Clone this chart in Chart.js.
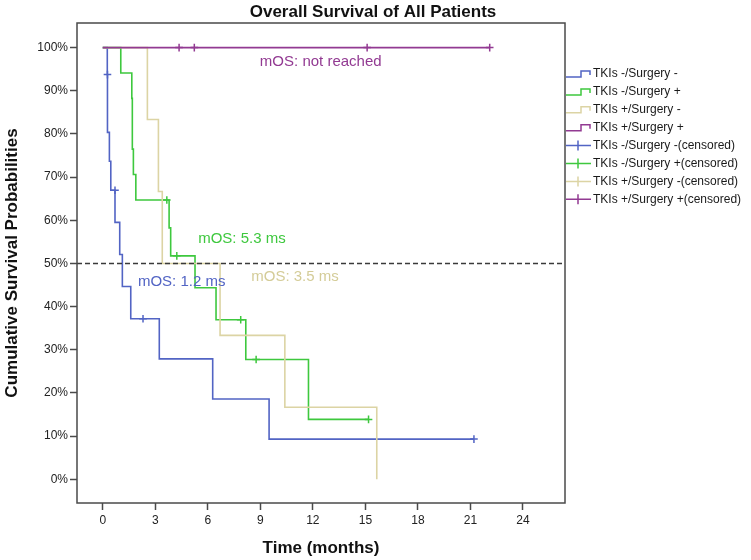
<!DOCTYPE html>
<html>
<head>
<meta charset="utf-8">
<script src="https://cdn.jsdelivr.net/npm/chart.js@4"></script>
<style>
  html, body { margin: 0; padding: 0; background: #fff; }
</style>
</head>
<body>
<canvas id="km" width="751" height="560"></canvas>
<script>
// group names
const groupNames = ['TKIs -/Surgery -', 'TKIs -/Surgery +', 'TKIs +/Surgery -', 'TKIs +/Surgery +'];

// TKIs -/Surgery -
const timeA = [0, 0.26, 0.27, 0.38, 0.46, 0.70, 0.97, 1.12, 1.60, 3.23, 6.28, 9.50, 21.2];
const survA = [100, 93.75, 80.36, 73.66, 66.96, 59.52, 52.08, 44.64, 37.20, 27.90, 18.60, 9.30, 9.30];
const censTimeA = [0.27, 0.70, 2.30, 21.2];
const censSurvA = [93.75, 66.96, 37.20, 9.30];

// TKIs -/Surgery +
const timeB = [0, 1.03, 1.66, 1.69, 1.75, 1.89, 3.79, 3.88, 5.27, 6.47, 8.17, 11.75, 15.18];
const survB = [100, 94.12, 88.24, 76.47, 70.59, 64.71, 58.24, 51.76, 44.37, 36.97, 27.73, 13.87, 13.87];
const censTimeB = [3.66, 4.23, 7.88, 8.76, 15.18];
const censSurvB = [64.71, 51.76, 36.97, 27.73, 13.87];

// TKIs +/Surgery -
const timeC = [0, 2.55, 3.18, 3.40, 6.70, 10.40, 15.65];
const survC = [100, 83.33, 66.67, 50, 33.33, 16.67, 0];
const censTimeC = [];
const censSurvC = [];

// TKIs +/Surgery +
const timeD = [0, 22.1];
const survD = [100, 100];
const censTimeD = [4.36, 5.23, 15.1, 22.1];
const censSurvD = [100, 100, 100, 100];

// axis ticks
const xTicks = [0, 3, 6, 9, 12, 15, 18, 21, 24];
const yTicks = [0, 10, 20, 30, 40, 50, 60, 70, 80, 90, 100];
const xMin = -1.47, xMax = 26.4;
const yMin = -5.5, yMax = 105.7;
const medianLevel = 50;

const colors = ['#5264c4', '#3ec83e', '#dcd4a4', '#923a92'];

function pts(xs, ys) {
    return xs.map((x, i) => ({ x: x, y: ys[i] }));
}

const survSets = [[timeA, survA], [timeB, survB], [timeC, survC], [timeD, survD]];
const censSets = [[censTimeA, censSurvA], [censTimeB, censSurvB], [censTimeC, censSurvC], [censTimeD, censSurvD]];

let datasets = [];

// 50% reference line, on top
datasets.push({
    label: 'ref',
    data: pts([xMin, xMax], [medianLevel, medianLevel]),
    borderColor: '#3a3a3a',
    borderWidth: 1.4,
    borderDash: [5, 3],
    pointRadius: 0,
    order: 0
});

survSets.forEach((s, i) => {
    datasets.push({
        label: groupNames[i],
        data: pts(s[0], s[1]),
        borderColor: colors[i],
        borderWidth: 1.6,
        stepped: 'before',
        pointRadius: 0,
        legendKind: 'step',
        order: i === 3 ? 2 : 6 - i
    });
});

censSets.forEach((s, i) => {
    datasets.push({
        label: groupNames[i] + '(censored)',
        data: pts(s[0], s[1]),
        borderColor: colors[i],
        backgroundColor: colors[i],
        showLine: false,
        pointStyle: 'cross',
        pointRadius: 3.8,
        pointBorderWidth: 1.5,
        legendKind: 'cross',
        order: 1
    });
});

// title, frame, legend and median notes
const extras = {
    id: 'extras',
    afterDatasetsDraw(chart) {
        const ctx = chart.ctx;
        const a = chart.chartArea;
        const xs = chart.scales.x, ys = chart.scales.y;
        ctx.save();

        // title
        ctx.font = 'bold 17px "Liberation Sans", Arial, sans-serif';
        ctx.fillStyle = '#111';
        ctx.textAlign = 'center';
        ctx.textBaseline = 'middle';
        ctx.fillText('Overall Survival of All Patients', 373, 12);

        // notes
        const notes = [
            { text: 'mOS: not reached', x: 12.45, y: 96.7, color: colors[3] },
            { text: 'mOS: 5.3 ms', x: 7.95, y: 55.8, color: colors[1] },
            { text: 'mOS: 1.2 ms', x: 4.51, y: 45.7, color: colors[0] },
            { text: 'mOS: 3.5 ms', x: 10.98, y: 46.8, color: '#d4cc98' }
        ];
        ctx.font = '15px "Liberation Sans", Arial, sans-serif';
        notes.forEach(n => {
            ctx.fillStyle = n.color;
            ctx.fillText(n.text, xs.getPixelForValue(n.x), ys.getPixelForValue(n.y));
        });

        // frame
        ctx.strokeStyle = '#4a4a4a';
        ctx.lineWidth = 1.5;
        ctx.strokeRect(a.left, a.top, a.right - a.left, a.bottom - a.top);

        // legend
        const items = chart.data.datasets.filter(d => d.legendKind);
        ctx.font = '12px "Liberation Sans", Arial, sans-serif';
        ctx.textAlign = 'left';
        ctx.lineWidth = 1.5;
        items.forEach((d, i) => {
            const y = 74 + i * 17.9;
            const x0 = a.right + 1;
            ctx.strokeStyle = d.borderColor;
            ctx.beginPath();
            if (d.legendKind === 'step') {
                ctx.moveTo(x0, y + 3);
                ctx.lineTo(x0 + 15, y + 3);
                ctx.lineTo(x0 + 15, y - 3);
                ctx.lineTo(x0 + 24, y - 3);
                ctx.lineTo(x0 + 24, y + 1);
            } else {
                ctx.moveTo(x0, y);
                ctx.lineTo(x0 + 25, y);
                ctx.moveTo(x0 + 12, y - 5);
                ctx.lineTo(x0 + 12, y + 5);
            }
            ctx.stroke();
            ctx.fillStyle = '#1a1a1a';
            ctx.fillText(d.label, x0 + 27, y);
        });
        ctx.restore();
    }
};

const labelFont = { family: '"Liberation Sans", Arial, sans-serif', size: 12 };
const titleFont = { family: '"Liberation Sans", Arial, sans-serif', size: 17, weight: 'bold' };

new Chart(document.getElementById('km').getContext('2d'), {
    type: 'line',
    data: { datasets: datasets },
    options: {
        responsive: false,
        animation: false,
        layout: { padding: { top: 23, right: 186, left: 0, bottom: 0 } },
        plugins: {
            legend: { display: false },
            tooltip: { enabled: false },
            title: { display: false }
        },
        scales: {
            x: {
                type: 'linear',
                min: xMin,
                max: xMax,
                afterBuildTicks: s => { s.ticks = xTicks.map(v => ({ value: v })); },
                afterFit: s => { s.height = 57; },
                grid: { drawOnChartArea: false, tickLength: 7, color: '#4a4a4a', tickWidth: 1.5 },
                border: { display: false },
                ticks: { font: labelFont, color: '#222', padding: 3, maxRotation: 0 },
                title: { display: true, text: 'Time (months)', font: titleFont, color: '#111', padding: { top: 0, bottom: 1 } }
            },
            y: {
                type: 'linear',
                min: yMin,
                max: yMax,
                afterBuildTicks: s => { s.ticks = yTicks.map(v => ({ value: v })); },
                afterFit: s => { s.width = 77; },
                grid: { drawOnChartArea: false, tickLength: 7, color: '#4a4a4a', tickWidth: 1.5 },
                border: { display: false },
                ticks: { font: labelFont, color: '#222', padding: 2, callback: v => v + '%' },
                title: { display: true, text: 'Cumulative Survival Probabilities', font: titleFont, color: '#111', padding: { top: 2, bottom: 0 } }
            }
        }
    },
    plugins: [extras]
});
</script>
</body>
</html>
